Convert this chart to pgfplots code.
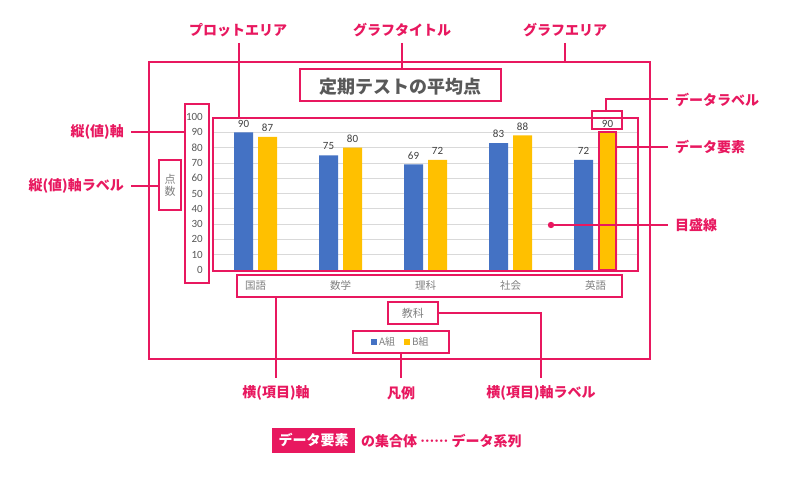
\documentclass[border=0pt]{standalone}
\usepackage{fontspec}
\setmainfont{Carlito}
\newfontfamily\jp{Noto Sans CJK JP}
\newfontfamily\jpdots[Script=CJK, Language=Japanese]{Noto Sans CJK JP}
\usepackage{pgfplots}
\usepackage{pgfplotstable}
\pgfplotsset{compat=1.18}
\definecolor{accent}{HTML}{E8185F}
\definecolor{seriesA}{HTML}{4472C4}
\definecolor{seriesB}{HTML}{FFC000}
\definecolor{labelgray}{HTML}{595959}
\definecolor{lightgray}{HTML}{808080}
\definecolor{valgray}{HTML}{404040}
\definecolor{gridgray}{HTML}{D9D9D9}

% average score per subject, A/B class
\pgfplotstableread{
idx A B
0 90 87
1 75 80
2 69 72
3 83 88
4 72 90
}\scores

\tikzset{
  callout/.style={font=\jp\bfseries\fontsize{14}{16}\selectfont, text=accent, inner sep=0pt},
  frame/.style={draw=accent, line width=1.6pt},
  lead/.style={draw=accent, line width=1.4pt}
}

\begin{document}
\begin{tikzpicture}
\path[use as bounding box, fill=white] (0pt,0pt) rectangle (800pt,-481pt);

\begin{axis}[
  at={(213pt,-270pt)}, anchor=south west,
  scale only axis, width=425pt, height=153pt,
  ybar=5pt, bar width=19pt,
  xmin=-0.5, xmax=4.5, ymin=0, ymax=100,
  xtick={0,...,4}, xticklabels={国語,数学,理科,社会,英語},
  ytick={0,10,...,100},
  /pgf/number format/assume math mode=true,
  axis line style={draw=none},
  major tick length=0pt,
  ymajorgrids, grid style={gridgray, line width=0.8pt},
  tick label style={text=labelgray},
  yticklabel style={font=\fontsize{11}{13}\selectfont, anchor=east, inner sep=0pt, xshift=-10pt},
  xticklabel style={font=\jp\fontsize{10.5}{12}\selectfont, text=lightgray, anchor=base, inner sep=0pt, yshift=-19pt},
  nodes near coords,
  every node near coord/.append style={font=\fontsize{11}{13}\selectfont, text=valgray, anchor=south, inner sep=0pt, yshift=5pt},
  title={定期テストの平均点},
  title style={font=\jp\bfseries\fontsize{18}{20}\selectfont, text=labelgray, at={(axis description cs:0.44,1.158)}, anchor=center, inner sep=0pt},
  xlabel={教科},
  xlabel style={font=\jp\fontsize{11}{13}\selectfont, text=lightgray, at={(axis description cs:0.47,-0.281)}, anchor=center, inner sep=0pt},
  ylabel={点\\数},
  ylabel style={font=\jp\fontsize{11}{12}\selectfont, text=lightgray, rotate=-90, align=center, at={(axis description cs:-0.101,0.556)}, anchor=center, inner sep=0pt},
  legend style={at={(axis description cs:0.442,-0.47)}, anchor=center, draw=none, fill=none, legend columns=2,
    font=\jp\fontsize{10}{12}\selectfont, text=lightgray, inner sep=0pt,
    /tikz/every even column/.append style={column sep=7pt}},
  legend image code/.code={\fill[#1] (0pt,-3pt) rectangle (6pt,3pt);},
]
\addplot[fill=seriesA, draw=none] table[x=idx, y=A] {\scores};
\addplot[fill=seriesB, draw=none] table[x=idx, y=B] {\scores};
\legend{A組,B組}
\end{axis}

\begin{scope}[x=1pt, y=-1pt]
  % frames round the chart parts
  \draw[frame] (149,62) rectangle (650,359);
  \draw[frame] (300,69) rectangle (501,101);
  \draw[frame] (213,118) rectangle (638,271);
  \draw[frame] (185,104) rectangle (209,283);
  \draw[frame] (159,160) rectangle (181,210);
  \draw[frame] (237,275) rectangle (622,297);
  \draw[frame] (388,302) rectangle (438,324);
  \draw[frame] (353,331) rectangle (449,353);
  \draw[frame] (592,111) rectangle (622,129);
  \draw[frame] (599,132) rectangle (616,270);

  % leader lines
  \draw[lead] (239,43) -- (239,118);
  \draw[lead] (402,43) -- (402,69);
  \draw[lead] (565,43) -- (565,62);
  \draw[lead] (606,111) -- (606,99) -- (668,99);
  \draw[lead] (616,147) -- (668,147);
  \draw[lead] (551,225) -- (668,225);
  \fill[accent] (551,225) circle (3.2);
  \draw[lead] (131,132) -- (185,132);
  \draw[lead] (131,186) -- (159,186);
  \draw[lead] (276,297) -- (276,378);
  \draw[lead] (438,313) -- (541,313) -- (541,378);
  \draw[lead] (401,353) -- (401,378);

  % callout texts
  \node[callout] at (238,30) {プロットエリア};
  \node[callout] at (402,30) {グラフタイトル};
  \node[callout] at (565,30) {グラフエリア};
  \node[callout, anchor=west] at (675,100) {データラベル};
  \node[callout, anchor=west] at (675,147) {データ要素};
  \node[callout, anchor=west] at (675,225) {目盛線};
  \node[callout, anchor=east] at (124,132) {縦(値)軸};
  \node[callout, anchor=east] at (124,186) {縦(値)軸ラベル};
  \node[callout] at (276,393) {横(項目)軸};
  \node[callout] at (401,393) {凡例};
  \node[callout] at (541,393) {横(項目)軸ラベル};

  \fill[accent] (272,428) rectangle (355,453);
  \node[callout, text=white] at (313.5,440.5) {データ要素};
  \node[callout, anchor=west] at (361,441) {の集合体 {\jpdots\bfseries ……} データ系列};
\end{scope}
\end{tikzpicture}
\end{document}
